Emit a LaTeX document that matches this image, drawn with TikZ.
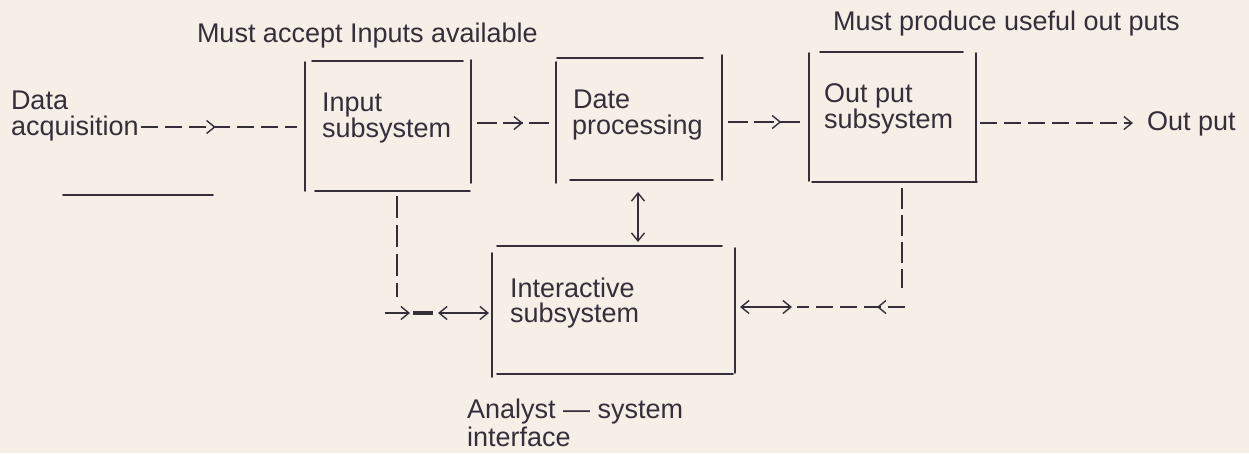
\documentclass[tikz,border=0pt]{standalone}
\usepackage{fontspec}
\setmainfont{Liberation Sans}
\usetikzlibrary{arrows.meta,decorations.markings,calc}
\definecolor{paper}{RGB}{246,239,231}
\definecolor{ink}{RGB}{52,47,57}
\begin{document}
\begin{tikzpicture}[x=1pt,y=-1pt,
  every node/.style={inner sep=0pt, outer sep=0pt, text=ink, font=\fontsize{27}{26}\selectfont},
  lbl/.style={anchor=base west},
  side/.style={draw=ink, line width=1.9pt, line cap=round},
  conn/.style={draw=ink, line width=1.6pt},
  dsh/.style={conn, dash pattern=on 17pt off 7pt},
  vdsh/.style={conn, line width=2pt, dash pattern=on 22pt off 7pt},
  >={Straight Barb[length=8pt,width=13pt,line width=1.4pt]},
  midarrow/.style={postaction={decorate}, decoration={markings,
     mark=at position #1 with {\arrow{Straight Barb[length=8pt,width=13pt,line width=1.4pt]}}}},
]
\fill[paper] (0,0) rectangle (1249,453);
\useasboundingbox (0,0) rectangle (1249,453);

% headings
\node[lbl] (acc) at (197,42) {Must accept Inputs available};
\node[lbl] (prod) at (833,30) {Must produce useful out puts};
\node[lbl] (d1) at (11,109) {Data};
\node[lbl] (d2) at (11,135) {acquisition};

% boxes (named, sides drawn separately)
\node[minimum width=166pt, minimum height=130pt] (inp) at (388,126) {};
\node[minimum width=166pt, minimum height=122pt] (dp) at (639,119) {};
\node[minimum width=167pt, minimum height=130pt] (outb) at (892.5,117) {};
\node[minimum width=243pt, minimum height=128pt] (ia) at (613.5,310) {};

% Input subsystem
\draw[side] (305,62) -- (305,191);
\draw[side] (312,61) -- (463,61);
\draw[side] (471,60) -- (471,183);
\draw[side] (315,191) -- (470,191);
\node[lbl] (it1) at (322,111) {Input};
\node[lbl] (it2) at (322,137) {subsystem};

% Date processing
\draw[side] (556,62) -- (556,183);
\draw[side] (557,58) -- (703,58);
\draw[side] (722,55) -- (722,180);
\draw[side] (570,180) -- (713,180);
\node[lbl] (pt1) at (573,108) {Date};
\node[lbl] (pt2) at (572,134) {processing};

% Out put subsystem
\draw[side] (809,53) -- (809,181);
\draw[side] (820,52) -- (963,52);
\draw[side] (976,53) -- (976,182);
\draw[side] (812,182) -- (977,182);
\node[lbl] (ot1) at (824,102) {Out put};
\node[lbl] (ot2) at (824,128) {subsystem};

% Interactive subsystem
\draw[side] (492,253) -- (492,377);
\draw[side] (497,246) -- (722,246);
\draw[side] (735,248) -- (735,373);
\draw[side] (497,374) -- (733,374);
\node[lbl] (st1) at (510,297) {Interactive};
\node[lbl] (st2) at (510,322) {subsystem};

% other labels
\node[lbl] (out) at (1147,130) {Out put};
\node[lbl] (an1) at (467,418) {Analyst --- system};
\node[lbl] (an2) at (467,446) {interface};

% stray rule under Data acquisition
\draw[side] (63,195) -- (213,195);

% connector rows
\coordinate (y1) at (0,127);
\coordinate (y2) at (0,123);
\coordinate (y3) at (0,122);
\coordinate (mx) at (638,0);
\coordinate (lx) at (397,0);
\coordinate (rx) at (902,0);
\coordinate (lb) at (385,313);
\coordinate (rb) at (905,307);

% main flow
\draw[dsh, midarrow=0.48] ($(d2.east |- y1)+(2,0)$) -- ($(inp.west |- y1)+(-8,0)$);
\draw[conn, dash pattern=on 20pt off 6pt, midarrow=0.63] ($(inp.east |- y2)+(6,0)$) -- ($(dp.west |- y2)+(-6,0)$);
\draw[conn, dash pattern=on 20pt off 6pt, midarrow=0.72] ($(dp.east |- y3)+(6,0)$) -- ($(outb.west |- y3)+(-7,0)$);
\draw[dsh, ->] ($(outb.east |- y2)+(4,0)$) -- ($(out.west |- y2)+(-14,0)$);

% processing <-> interactive
\draw[conn, line width=1.3pt, <->] ($(dp.south -| mx)+(0,12)$) -- ($(ia.north -| mx)+(0,-4)$);

% input side link
\draw[vdsh] ($(inp.south -| lx)+(0,5)$) -- ($(inp.south -| lx)+(0,106)$);
\draw[conn, ->] (lb) -- ($(lb)+(25,0)$);
\draw[draw=ink, line width=3.5pt] ($(lb)+(28,0)$) -- ($(lb)+(48,0)$);
\draw[conn, <->] ($(lb)+(53,0)$) -- ($(ia.west |- lb)+(-3,0)$);

% output side link
\draw[vdsh, dash pattern=on 21pt off 6pt] ($(outb.south -| rx)+(0,6)$) -- ($(outb.south -| rx)+(0,106)$);
\draw[dsh, midarrow=0.26] (rb) -- ($(rb)+(-108,0)$);
\draw[conn, <->] ($(rb)+(-113,0)$) -- ($(ia.east |- rb)+(5,0)$);
\end{tikzpicture}
\end{document}
